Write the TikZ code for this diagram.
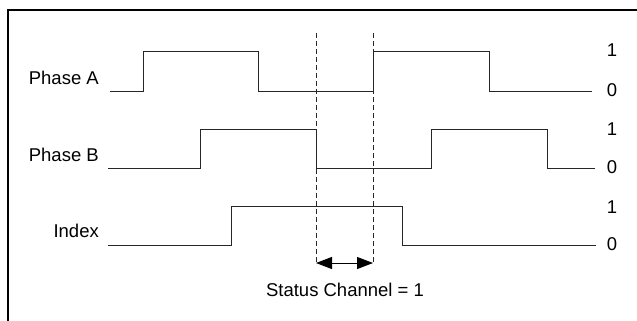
\documentclass[tikz,border=0pt]{standalone}
\usepackage{fontspec}
\setmainfont{Liberation Sans}
\usetikzlibrary{arrows.meta}
\begin{document}
\begin{tikzpicture}[x=1pt,y=-1pt,
  lbl/.style={inner sep=0pt,font=\fontsize{18.5}{22}\selectfont},
  wave/.style={line width=1pt,black!85},
  guide/.style={line width=0.9pt,dash pattern=on 5pt off 3pt,black!85},
  frame/.style={line width=2pt}]
\useasboundingbox (0,0) rectangle (637,321);
\fill[white] (0,0) rectangle (637,321);
% frame
\draw[frame] (8,321) -- (8,10) -- (637,10);
% labels
\node[lbl,anchor=east] (la) at (99,78) {Phase A};
\node[lbl,anchor=east] (lb) at (99,155) {Phase B};
\node[lbl,anchor=east] (li) at (99,231) {Index};
\node[lbl] (a1) at (612,50) {1};
\node[lbl] (a0) at (612,90) {0};
\node[lbl] (b1) at (612,129) {1};
\node[lbl] (b0) at (612,167) {0};
\node[lbl] (i1) at (612,207) {1};
\node[lbl] (i0) at (612,244) {0};
% waveforms
\draw[wave] (110,91) -- (143,91) -- (143,52) -- (258,52) -- (258,91) -- (373,91) -- (373,52) -- (489,52) -- (489,91) -- (592,91);
\draw[wave] (108,168) -- (200,168) -- (200,129) -- (316,129) -- (316,168) -- (431,168) -- (431,129) -- (547,129) -- (547,168) -- (595,168);
\draw[wave] (108,245) -- (231,245) -- (231,206) -- (402,206) -- (402,245) -- (596,245);
% guides
\coordinate (g1t) at (316,33);
\coordinate (g1b) at (316,263);
\coordinate (g2t) at (373,33);
\coordinate (g2b) at (373,263);
\draw[guide] (g1t) -- (g1b);
\draw[guide] (g2t) -- (g2b);
\draw[line width=1pt,{Triangle[length=16pt,width=12pt]}-{Triangle[length=16pt,width=12pt]}] (g1b) -- (g2b);
\node[lbl] (st) at (345,290) {Status Channel = 1};
\end{tikzpicture}
\end{document}
